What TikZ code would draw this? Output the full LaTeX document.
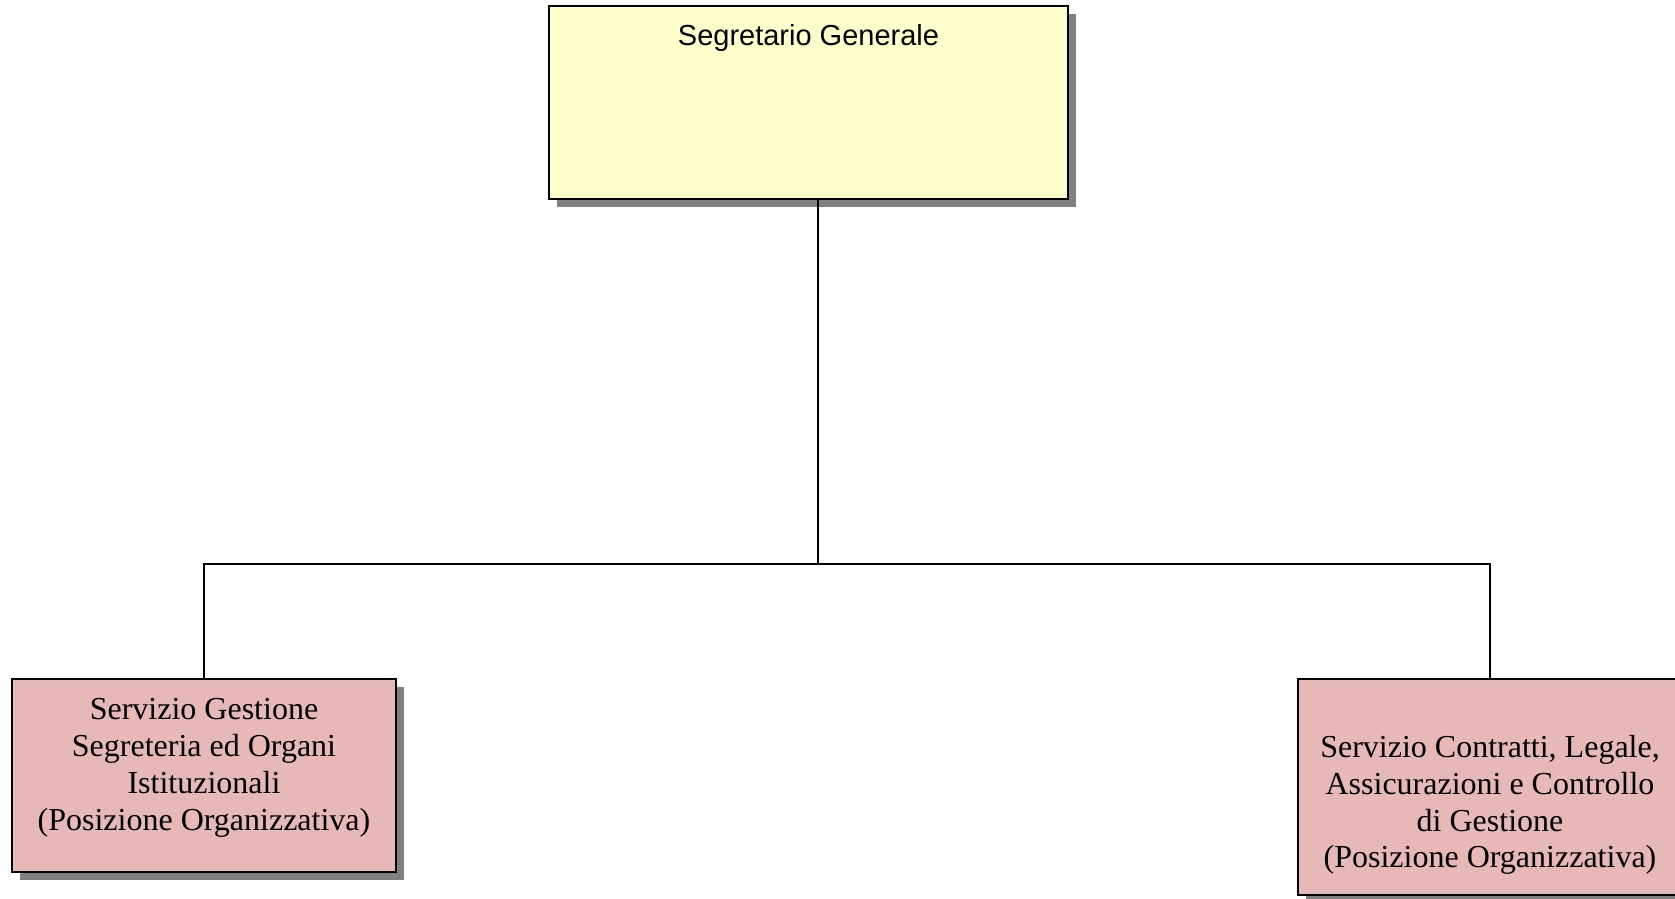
\documentclass[tikz,border=0pt]{standalone}
\usepackage{fontspec}
\setmainfont{Liberation Serif}
\setsansfont{Liberation Sans}
\usetikzlibrary{shadows}

\definecolor{bosscolor}{HTML}{FFFFCC}
\definecolor{officecolor}{HTML}{E6B8B7}

\begin{document}
\begin{tikzpicture}[x=1pt,y=-1pt,
	box/.style={draw,line width=2pt,inner sep=0pt,
		drop shadow={shadow xshift=7.5pt,shadow yshift=-7.5pt,fill=black!50,opacity=1}},
	boxtext/.style={align=center,inner sep=0pt,font=\fontsize{32}{36.8}\selectfont},
	link/.style={line width=1.3pt}]

\useasboundingbox (0,0) rectangle (1675,898);

% Segretario Generale
\node [box,fill=bosscolor,minimum width=519pt,minimum height=193pt] (sg) at (808.5,102.5) {};
\node [inner sep=0pt,font=\sffamily\fontsize{29}{34}\selectfont] (sgtext) at (808.5,38) {Segretario Generale};

% servizi
\node [box,fill=officecolor,minimum width=384pt,minimum height=193pt] (segr) at (204,775.5) {};
\node [boxtext] (segrtext) at (204,768) {Servizio Gestione\\Segreteria ed Organi\\Istituzionali\\(Posizione Organizzativa)};

\node [box,fill=officecolor,minimum width=384pt,minimum height=216pt] (contr) at (1490,787) {};
\node [boxtext] (contrtext) at (1490,805) {Servizio Contratti, Legale,\\Assicurazioni e Controllo\\di Gestione\\(Posizione Organizzativa)};

\coordinate (hub) at (818,564);
\draw [link] (sg.south -| hub) -- (hub);
\draw [link] (segr.north) -- (segr.north |- hub) -- (contr.north |- hub) -- (contr.north);

\end{tikzpicture}
\end{document}
